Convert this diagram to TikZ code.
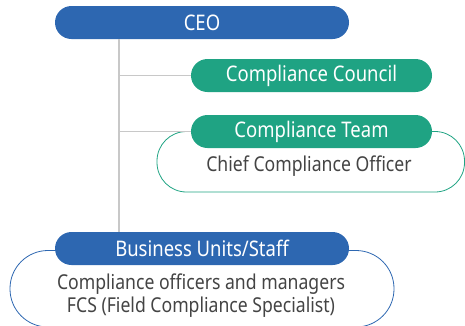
\documentclass[tikz,border=0pt]{standalone}
\usepackage{fontspec}
\setmainfont{Noto Sans}[FakeStretch=0.86]
\definecolor{ceoblue}{HTML}{2D67B1}
\definecolor{teamgreen}{HTML}{1FA383}
\definecolor{linegray}{HTML}{C8C8C8}
\definecolor{textgray}{HTML}{444444}
\begin{document}
\begin{tikzpicture}[x=1pt,y=-1pt,every node/.style={font=\fontsize{20.5}{23}\selectfont},
  pill/.style={minimum height=33pt,rounded corners=16.5pt,text=white,inner sep=0pt,font=\fontsize{21.5}{23}\selectfont},
  frame/.style={draw,line width=0.8pt},
  link/.style={draw=linegray,line width=1.5pt}]
\clip (0,0) rectangle (465,325);
% outlines behind the boxes
\draw[frame,teamgreen,rounded corners=29.5pt] (157,131.5) rectangle (464.5,192);
\draw[frame,ceoblue,rounded corners=38pt] (10,250.5) rectangle (394,327);
% boxes
\node[pill,fill=ceoblue,minimum width=294pt] (ceo) at (202,22.5) {CEO};
\node[pill,fill=teamgreen,minimum width=241pt] (council) at (311.5,75.5) {Compliance Council};
\node[pill,fill=teamgreen,minimum width=241pt] (team) at (311.5,131.5) {Compliance Team};
\node[text=textgray] (cco) at (309,166) {Chief Compliance Officer};
\node[pill,fill=ceoblue,minimum width=294pt] (units) at (202,248.5) {Business Units/Staff};
\node[text=textgray,align=center] (staff) at (201,296) {Compliance officers and managers\\FCS (Field Compliance Specialist)};
% lines
\coordinate (spine) at (119,0);
\draw[link] (ceo.south -| spine) -- (units.north -| spine);
\draw[link] (council.west -| spine) -- (council.west);
\draw[link] (team.west -| spine) -- (team.west);
\end{tikzpicture}
\end{document}
